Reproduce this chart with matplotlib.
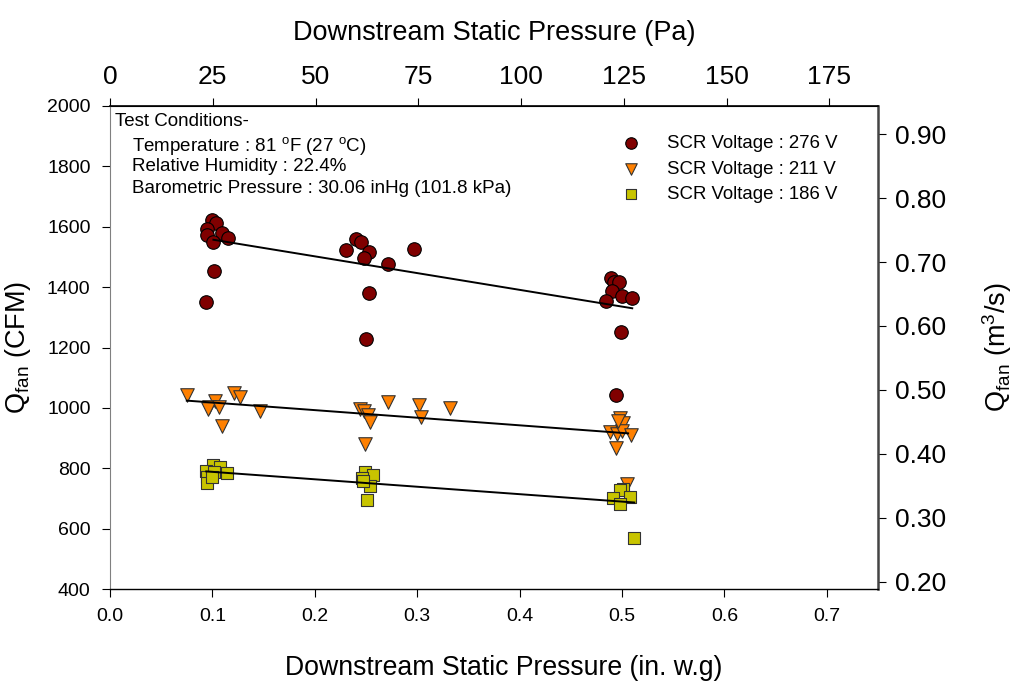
import numpy as np
import matplotlib
matplotlib.use("Agg")
import matplotlib.pyplot as plt

plt.rcParams['font.family'] = ['Liberation Sans', 'DejaVu Sans']
plt.rcParams['mathtext.fontset'] = 'custom'
plt.rcParams['mathtext.rm'] = 'Liberation Sans'
plt.rcParams['mathtext.it'] = 'Liberation Sans:italic'

# data (pressure in in. w.g, flow in CFM)
x_276 = [0.0993, 0.104, 0.0944, 0.0944, 0.109, 0.115, 0.101, 0.1016, 0.0935,
         0.240, 0.245, 0.2305, 0.253, 0.248, 0.271, 0.297, 0.253, 0.2497,
         0.489, 0.4925, 0.497, 0.4905, 0.4997, 0.510, 0.484, 0.4987, 0.4938]
q_276 = [1622, 1613, 1591, 1574, 1579, 1563, 1550, 1452, 1350,
         1561, 1548, 1522, 1516, 1498, 1478, 1525, 1380, 1227,
         1431, 1417, 1417, 1387, 1369, 1364, 1354, 1251, 1041]

x_211 = [0.0749, 0.121, 0.127, 0.1025, 0.0967, 0.0954, 0.1068, 0.146, 0.109,
         0.271, 0.302, 0.332, 0.244, 0.248, 0.2516, 0.254, 0.3037, 0.249,
         0.498, 0.501, 0.488, 0.495, 0.4997, 0.5085, 0.4938, 0.5045, 0.496]
q_211 = [1044, 1048, 1037, 1022, 1002, 997, 1004, 991, 941,
         1019, 1008, 1000, 997, 989, 978, 952, 969, 880,
         965, 949, 919, 914, 922, 910, 867, 748, 958]

x_186 = [0.101, 0.107, 0.0934, 0.114, 0.1016, 0.0944, 0.0944, 0.0993,
         0.249, 0.257, 0.2458, 0.254, 0.2507, 0.247,
         0.501, 0.498, 0.508, 0.4915, 0.498, 0.5117]
q_186 = [812, 803, 792, 783, 786, 772, 750, 770,
         788, 777, 768, 742, 694, 759,
         731, 728, 705, 703, 683, 568]

# fitted lines as drawn: (slope, intercept, x start, x end)
fit_276 = (-555.0, 1613.0, 0.101, 0.510)
fit_211 = (-251.7, 1042.9, 0.075, 0.506)
fit_186 = (-246.4, 812.7, 0.094, 0.512)

labels = ['SCR Voltage : 276 V', 'SCR Voltage : 211 V', 'SCR Voltage : 186 V']
conditions = ['Test Conditions-',
              r'Temperature : 81 $^\mathrm{o}$F (27 $^\mathrm{o}$C)',
              'Relative Humidity : 22.4%',
              'Barometric Pressure : 30.06 inHg (101.8 kPa)']

PA_PER_IN = 249.0889
M3S_PER_CFM = 0.00047194745

fig = plt.figure(figsize=(10.13, 6.83), dpi=100)
ax = fig.add_axes([110/1013, 1-589/683, 768/1013, 483/683])

ax.scatter(x_276, q_276, s=95, marker='o', c='#800000', edgecolors='black',
           linewidths=0.8, label=labels[0], zorder=3)
ax.scatter(x_211, q_211, s=95, marker='v', c='#ff8000', edgecolors='#333333',
           linewidths=0.8, label=labels[1], zorder=3)
ax.scatter(x_186, q_186, s=85, marker='s', c='#c8c400', edgecolors='#333333',
           linewidths=0.8, label=labels[2], zorder=3)

for m, b, x0, x1 in (fit_276, fit_211, fit_186):
    xx = np.array([x0, x1])
    ax.plot(xx, m*xx + b, color='black', lw=1.4, zorder=4)

ax.set_xlim(0, 0.75)
ax.set_ylim(400, 2000)
ax.set_xticks(np.arange(0, 0.71, 0.1))
ax.set_xticklabels(['%.1f' % v for v in np.arange(0, 0.71, 0.1)])
ax.set_yticks(np.arange(400, 2001, 200))
ax.tick_params(axis='both', direction='out', length=6, labelsize=14, pad=8)
ax.spines['left'].set_color('#808080')
ax.spines['right'].set_visible(False)
ax.spines['top'].set_linewidth(1.2)
ax.spines['bottom'].set_linewidth(1.0)

ax.set_xlabel('Downstream Static Pressure (in. w.g)', fontsize=19.2)
ax.xaxis.set_label_coords(0.513, -0.136)
ax.set_ylabel(r'Q$_{\mathrm{fan}}$ (CFM)', fontsize=19.5, labelpad=10)

top = ax.secondary_xaxis('top', functions=(lambda v: v*PA_PER_IN, lambda v: v/PA_PER_IN))
top.set_xticks(np.arange(0, 176, 25))
top.tick_params(direction='out', length=6, labelsize=19, pad=6)
top.set_xlabel('Downstream Static Pressure (Pa)', fontsize=19.5, labelpad=18)

right = ax.secondary_yaxis('right', functions=(lambda v: v*M3S_PER_CFM, lambda v: v/M3S_PER_CFM))
right.set_yticks(np.arange(0.2, 0.91, 0.1))
right.set_yticklabels(['%.2f' % v for v in np.arange(0.2, 0.91, 0.1)])
right.tick_params(direction='out', length=6, labelsize=19, pad=6)
right.spines['right'].set_color('#444444')
right.spines['right'].set_linewidth(1.8)
right.set_ylabel(r'Q$_{\mathrm{fan}}$ (m$^3$/s)', fontsize=19.5, labelpad=25)

for i, line in enumerate(conditions):
    ax.text(0.007 if i == 0 else 0.029, 0.985 - i*0.046, line,
            transform=ax.transAxes, ha='left', va='top', fontsize=13.5)

ax.legend(loc='upper left', bbox_to_anchor=(0.645, 0.955), frameon=False,
          fontsize=13.4, markerscale=0.85, handletextpad=0.9, labelspacing=0.45,
          borderaxespad=0, scatterpoints=1)

fig.savefig('out.png', dpi=100)
